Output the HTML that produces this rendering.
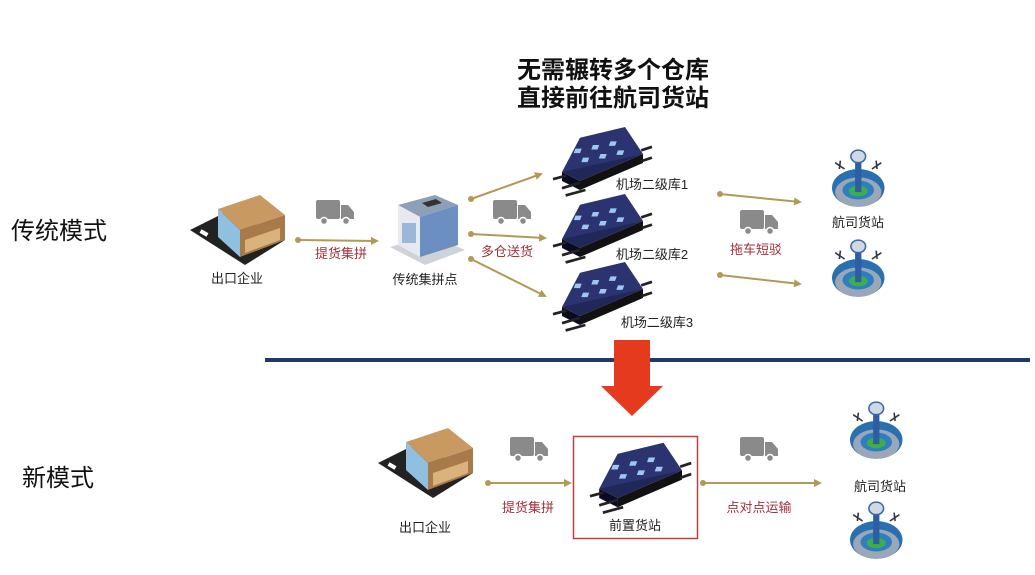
<!DOCTYPE html>
<html><head><meta charset="utf-8"><style>
html,body{margin:0;padding:0;background:#fff;}
svg{display:block;}
text{font-family:"Liberation Sans","Noto Sans CJK SC",sans-serif;}
</style></head><body>
<svg width="1035" height="575" viewBox="0 0 1035 575" xmlns="http://www.w3.org/2000/svg">
<defs>
<g id="truck"><rect x="0" y="0" width="24" height="19" rx="2" fill="#8a8a8a"/><path d="M25 5 H32 L38 12 V19 H25 Z" fill="#8a8a8a"/><circle cx="8" cy="21" r="3.5" fill="#8a8a8a" stroke="#fff" stroke-width="1.5"/><circle cx="30" cy="21" r="3.5" fill="#8a8a8a" stroke="#fff" stroke-width="1.5"/></g>
<g id="wh">
 <path d="M10 40 L80 12 L100 20 L30 50 Z" fill="#20285a"/>
 <path d="M30 50 L100 20 L100 30 L30 60 Z" fill="#111"/>
 <path d="M10 40 L30 50 L30 60 L10 50 Z" fill="#0a0a20"/>
 <path d="M30 2 L80 -10 L100 20 L10 40 Z" fill="#2b3470"/>
 <rect x="30" y="14" width="7" height="5" fill="#9cc8f0" transform="skewX(-20)"/>
 <rect x="48" y="10" width="7" height="5" fill="#9cc8f0" transform="skewX(-20)"/>
 <rect x="66" y="6" width="7" height="5" fill="#9cc8f0" transform="skewX(-20)"/>
 <rect x="42" y="24" width="7" height="5" fill="#9cc8f0" transform="skewX(-20)"/>
 <rect x="60" y="20" width="7" height="5" fill="#9cc8f0" transform="skewX(-20)"/>
 <rect x="78" y="16" width="7" height="5" fill="#9cc8f0" transform="skewX(-20)"/>
 <g stroke="#222" stroke-width="3"><line x1="0" y1="48" x2="15" y2="44"/><line x1="10" y1="58" x2="30" y2="52"/><line x1="14" y1="66" x2="36" y2="60"/><line x1="98" y1="16" x2="110" y2="12"/><line x1="98" y1="28" x2="110" y2="24"/></g>
</g>
<g id="port">
 <ellipse cx="25" cy="38" rx="25" ry="18" fill="#2a6fb0"/>
 <ellipse cx="25" cy="42" rx="22" ry="14" fill="#9aa7b8"/>
 <ellipse cx="25" cy="40" rx="15" ry="9" fill="#2f7fc0"/>
 <ellipse cx="25" cy="41" rx="9" ry="5" fill="#3dae4a"/>
 <rect x="22" y="8" width="6" height="34" fill="#2d5fa0"/>
 <ellipse cx="25" cy="8" rx="7" ry="6" fill="#cfd8e3" stroke="#3a6aa5" stroke-width="1.5"/>
 <path d="M3 14 L12 20 M8 12 L7 20 M47 14 L38 20 M42 12 L43 20" stroke="#334" stroke-width="1.5"/>
</g>
<g id="fac">
 <path d="M0 35 L40 15 L95 45 L55 70 Z" fill="#222"/>
 <path d="M28 14 L70 0 L95 20 L50 35 Z" fill="#c89a62"/>
 <path d="M28 14 L50 35 L50 62 L28 42 Z" fill="#8fc0e0"/>
 <path d="M50 35 L95 20 L95 45 L50 62 Z" fill="#a87a4a"/>
 <path d="M55 45 L90 33 L90 45 L55 58 Z" fill="#d9b27c"/>
 <rect x="10" y="36" width="8" height="4" fill="#fff" transform="rotate(30 14 38)"/>
 <rect x="20" y="52" width="8" height="4" fill="#fff" transform="rotate(30 24 54)"/>
</g>
<g id="bld">
 <path d="M0 52 L40 40 L75 55 L35 70 Z" fill="#cfd3d8"/>
 <path d="M8 10 L45 0 L68 10 L30 22 Z" fill="#8da0b8"/>
 <path d="M8 10 L30 22 L30 62 L8 50 Z" fill="#e6eaf0"/>
 <path d="M30 22 L68 10 L68 50 L30 62 Z" fill="#6b8fc0"/>
 <rect x="12" y="28" width="14" height="20" fill="#9cb8d8"/>
 <path d="M32 8 L46 4 L52 8 L38 12 Z" fill="#333"/>
</g>
<marker id="ah" markerWidth="8" markerHeight="8" refX="6" refY="4" orient="auto" markerUnits="userSpaceOnUse"><path d="M0 0 L8 4 L0 8 Z" fill="#b09a55"/></marker>
</defs>

<text x="613" y="78" font-size="24" font-weight="bold" text-anchor="middle" fill="#111">无需辗转多个仓库</text>
<text x="613" y="106" font-size="24" font-weight="bold" text-anchor="middle" fill="#111">直接前往航司货站</text>
<text x="59" y="239" font-size="24" text-anchor="middle" fill="#111">传统模式</text>
<text x="58" y="486" font-size="24" text-anchor="middle" fill="#111">新模式</text>

<line x1="265" y1="360" x2="1030" y2="360" stroke="#1f3a68" stroke-width="4"/>
<path d="M614 340 H650 V386 H663 L632 416 L601 386 H614 Z" fill="#e63a1e"/>

<g fill="none" stroke="#b09a55" stroke-width="2" marker-end="url(#ah)">
<line x1="298" y1="240" x2="377" y2="241"/>
<line x1="471" y1="199" x2="541" y2="174"/>
<line x1="471" y1="234" x2="545" y2="238"/>
<line x1="471" y1="259" x2="545" y2="296"/>
<line x1="720" y1="194" x2="800" y2="202"/>
<line x1="720" y1="275" x2="800" y2="284"/>
<line x1="488" y1="483" x2="570" y2="483"/>
<line x1="703" y1="483" x2="820" y2="483"/>
</g>
<g fill="#b09a55"><circle cx="298" cy="240" r="3"/><circle cx="471" cy="199" r="3"/><circle cx="471" cy="234" r="3"/><circle cx="471" cy="259" r="3"/><circle cx="720" cy="194" r="3"/><circle cx="720" cy="275" r="3"/><circle cx="488" cy="483" r="3"/><circle cx="703" cy="483" r="3"/></g>

<use href="#fac" x="190" y="195"/>
<use href="#bld" x="390" y="195"/>
<g transform="translate(553 136) scale(0.9)"><use href="#wh"/></g>
<g transform="translate(553 203) scale(0.9)"><use href="#wh"/></g>
<g transform="translate(553 271) scale(0.9)"><use href="#wh"/></g>
<g transform="translate(832 148) scale(1.05)"><use href="#port"/></g>
<g transform="translate(832 238) scale(1.05)"><use href="#port"/></g>
<use href="#truck" x="316" y="200"/>
<use href="#truck" x="493" y="200"/>
<use href="#truck" x="740" y="210"/>

<use href="#fac" x="378" y="428"/>
<rect x="573.5" y="436.5" width="124" height="102" fill="none" stroke="#c0403f" stroke-width="1.5"/>
<g transform="translate(590 452) scale(0.92)"><use href="#wh"/></g>
<use href="#truck" x="510" y="437"/>
<use href="#truck" x="740" y="437"/>
<g transform="translate(850 400) scale(1.05)"><use href="#port"/></g>
<g transform="translate(850 500) scale(1.05)"><use href="#port"/></g>

<g font-size="13" text-anchor="middle" fill="#222">
<text x="237" y="283">出口企业</text>
<text x="425" y="284">传统集拼点</text>
<text x="652" y="189">机场二级库1</text>
<text x="652" y="259">机场二级库2</text>
<text x="657" y="327">机场二级库3</text>
<text x="858" y="227">航司货站</text>
<text x="425" y="532">出口企业</text>
<text x="635" y="530">前置货站</text>
<text x="880" y="491">航司货站</text>
</g>
<g font-size="13" text-anchor="middle" fill="#a0303a">
<text x="341" y="258">提货集拼</text>
<text x="507" y="256">多仓送货</text>
<text x="756" y="254">拖车短驳</text>
<text x="528" y="512">提货集拼</text>
<text x="759" y="512">点对点运输</text>
</g>
</svg>
</body></html>
